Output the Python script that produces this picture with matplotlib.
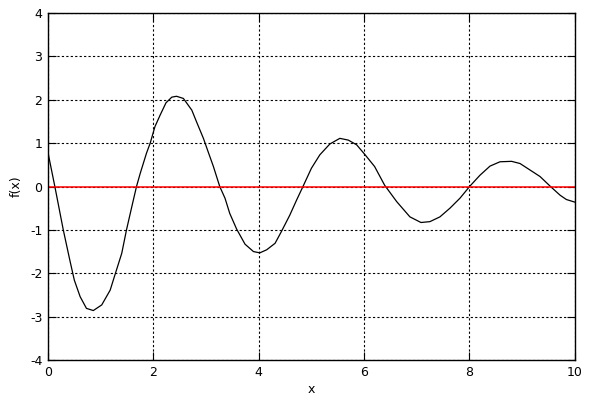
import matplotlib
matplotlib.use("Agg")
import matplotlib.pyplot as plt

plt.rcParams['axes.unicode_minus'] = False

# values
xs = [0.0, 0.13, 0.29, 0.42, 0.5, 0.61, 0.73, 0.86, 1.02, 1.18, 1.27, 1.40, 1.49,
      1.59, 1.68, 1.75, 1.87, 1.94, 2.03, 2.13, 2.24, 2.35, 2.44, 2.57, 2.73, 2.82,
      2.95, 3.04, 3.14, 3.26, 3.36, 3.45, 3.58, 3.74, 3.90, 4.02, 4.15, 4.31, 4.43,
      4.59, 4.72, 4.84, 5.0, 5.16, 5.35, 5.54, 5.70, 5.86, 6.02, 6.20, 6.39, 6.62,
      6.87, 7.08, 7.25, 7.44, 7.63, 7.82, 8.01, 8.20, 8.39, 8.58, 8.80, 8.96, 9.15,
      9.34, 9.53, 9.72, 9.84, 10.0]
ys = [0.78, 0.0, -1.0, -1.73, -2.16, -2.54, -2.81, -2.86, -2.73, -2.39, -2.04, -1.54, -1.0,
      -0.47, 0.0, 0.30, 0.77, 1.0, 1.38, 1.65, 1.93, 2.06, 2.08, 2.03, 1.76, 1.49,
      1.11, 0.80, 0.46, 0.0, -0.27, -0.62, -0.98, -1.33, -1.50, -1.53, -1.46, -1.31, -1.04,
      -0.66, -0.31, 0.0, 0.42, 0.73, 0.98, 1.11, 1.07, 0.96, 0.73, 0.46, 0.03, -0.35,
      -0.70, -0.83, -0.81, -0.70, -0.50, -0.27, 0.01, 0.26, 0.47, 0.57, 0.58, 0.53, 0.38,
      0.23, 0.01, -0.20, -0.30, -0.36]
x_ticks = [0, 2, 4, 6, 8, 10]
y_ticks = [-4, -3, -2, -1, 0, 1, 2, 3, 4]
zero_line = [0, 0]

fig = plt.figure(figsize=(6, 4), dpi=100)
ax = fig.add_axes([0.08, 0.1, 0.878, 0.8675])

ax.plot(xs, ys, color='black', lw=0.9)
ax.plot([x_ticks[0], x_ticks[-1]], zero_line, color='red', lw=1.1)

ax.set_xlim(0, 10)
ax.set_ylim(-4, 4)
ax.set_xticks(x_ticks)
ax.set_yticks(y_ticks)
ax.grid(True, color='black', linestyle=(0, (2, 2)), lw=0.8)
ax.tick_params(direction='in', top=True, right=True, length=6, width=0.8,
               labelsize=9, pad=4)
for s in ax.spines.values():
    s.set_linewidth(1.0)

ax.set_xlabel("x", fontsize=9, labelpad=3)
ax.set_ylabel("f(x)", fontsize=9, labelpad=5)

fig.savefig("out.png", dpi=100)
